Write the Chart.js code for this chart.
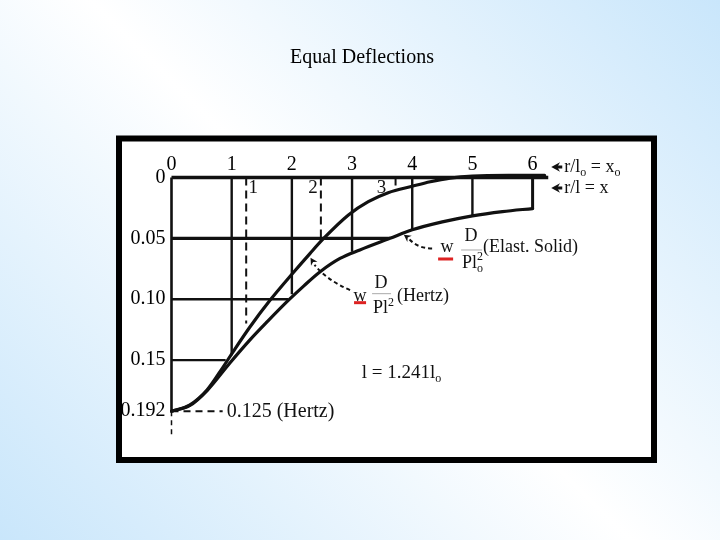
<!DOCTYPE html>
<html>
<head>
<meta charset="utf-8">
<title>Equal Deflections</title>
<script src="https://cdn.jsdelivr.net/npm/chart.js@4.4.1/dist/chart.umd.min.js"></script>
<style>
    html, body { margin: 0; padding: 0; }
    body {
        width: 720px;
        height: 540px;
        overflow: hidden;
        background: linear-gradient(45deg, #c9e6fb 0%, #ffffff 50%, #c9e6fb 100%);
    }
    #chart { display: block; }
</style>
</head>
<body>
<canvas id="chart" width="720" height="540"></canvas>
<script>
// Top axis: r/lo = xo
const xoTicks = [0, 1, 2, 3, 4, 5, 6];
// Left axis: deflection w D / P l^2
const wTicks = [0, 0.05, 0.10, 0.15, 0.192];
const wTickLabels = ['0', '0.05', '0.10', '0.15', '0.192'];
// Second scale r/l = x, with l = 1.241 lo
const xTicks = [1, 2, 3];
const lRatio = 1.241;

// Hertz curve (in xo units)
const hertzXo = [0, 0.3, 0.59, 0.86, 1.02, 1.3, 1.64, 2.0, 2.3, 2.52, 2.94, 3.27, 3.6, 4.0, 4.3, 4.63, 5.0, 5.6, 6.2];
const hertzW = [0.192, 0.187, 0.1746, 0.1555, 0.1434, 0.123, 0.1007, 0.0795, 0.0625, 0.0505, 0.0308, 0.0199, 0.0125, 0.0072, 0.0035, 0.0005, -0.0012, -0.0017, -0.0017];

// Elastic solid curve
const elastXo = [0, 0.3, 0.6, 0.97, 1.3, 1.6, 1.94, 2.2, 2.47, 2.8, 3.13, 3.63, 4.0, 4.5, 5.0, 5.5, 6.0];
const elastW = [0.192, 0.1875, 0.1746, 0.1524, 0.1336, 0.118, 0.101, 0.089, 0.0774, 0.0665, 0.0595, 0.050, 0.043, 0.0365, 0.0315, 0.028, 0.0255];

// where the grid lines stop (they run down to the curves)
const xoGridEnd = [0.146, 0.096, 0.061, 0.0425, 0.0315, 0.0255]; // solid, xo = 1..6
const xGridEnd = [0.12, 0.05, 0.007];                          // dashed, x = 1..3
const wGridEnd = [3.63, 1.94, 0.9];                             // w = 0.05, 0.10, 0.15
const topLineEnd = 6.26;
const hertzStartLabel = '0.125 (Hertz)';

const ink = '#111';
const serif = "'Liberation Serif', 'Times New Roman', serif";

function segment(x0, y0, x1, y1, width, dash) {
    return {
        data: [{ x: x0, y: y0 }, { x: x1, y: y1 }],
        showLine: true,
        borderColor: ink,
        borderWidth: width,
        borderDash: dash || [],
        borderCapStyle: 'butt',
        pointRadius: 0,
        clip: false
    };
}

function curve(xs, ws) {
    return {
        data: xs.map((x, i) => ({ x: x, y: ws[i] })),
        showLine: true,
        borderColor: ink,
        borderWidth: 3.2,
        cubicInterpolationMode: 'monotone',
        borderCapStyle: 'round',
        pointRadius: 0,
        clip: false
    };
}

const wMax = wTicks[wTicks.length - 1];
const datasets = [];
datasets.push(curve(hertzXo, hertzW));
datasets.push(curve(elastXo, elastW));
datasets.push(segment(0, 0, topLineEnd, 0, 3.6));
datasets.push(segment(0, 0, 0, wMax, 2.6));
datasets.push(segment(0, wMax, 0, wMax + 0.02, 1.5, [5, 4]));
datasets.push(segment(0, wMax, 0.85, wMax, 2, [7, 5]));

xoTicks.slice(1).forEach((xo, i) => {
    datasets.push(segment(xo, 0, xo, xoGridEnd[i], i === 5 ? 3 : 2.4));
});
xTicks.forEach((x, i) => {
    datasets.push(segment(x * lRatio, 0, x * lRatio, xGridEnd[i], 2, [8, 5]));
});
wTicks.slice(1, 4).forEach((w, i) => {
    datasets.push(segment(0, w, wGridEnd[i], w, [3.2, 2.6, 2.2][i]));
});

// text with sub/superscripts, left aligned, vertically centred
function drawRich(ctx, x, y, parts, size) {
    parts.forEach(p => {
        const sub = p[1] === 'sub', sup = p[1] === 'sup';
        const fs = (sub || sup) ? Math.round(size * 0.65) : size;
        ctx.font = fs + 'px ' + serif;
        const dy = sub ? size * 0.3 : (sup ? -size * 0.35 : 0);
        ctx.fillText(p[0], x, y + dy);
        x += ctx.measureText(p[0]).width;
    });
    return x;
}

function arrowHead(ctx, x, y, angle, size) {
    ctx.beginPath();
    ctx.moveTo(x, y);
    ctx.lineTo(x + size * Math.cos(angle + 0.5), y + size * Math.sin(angle + 0.5));
    ctx.lineTo(x + size * 0.6 * Math.cos(angle), y + size * 0.6 * Math.sin(angle));
    ctx.lineTo(x + size * Math.cos(angle - 0.5), y + size * Math.sin(angle - 0.5));
    ctx.closePath();
    ctx.fill();
}

const annotations = {
    id: 'annotations',
    beforeDraw(chart) {
        const ctx = chart.ctx;
        ctx.save();
        ctx.fillStyle = '#fff';
        ctx.fillRect(119, 138.5, 535, 321.5);
        ctx.restore();
    },
    afterDatasetsDraw(chart) {
        const ctx = chart.ctx;
        const xs = chart.scales.x, ys = chart.scales.y;
        const P = (xo, w) => [xs.getPixelForValue(xo), ys.getPixelForValue(w)];
        ctx.save();
        ctx.fillStyle = ink;
        ctx.strokeStyle = ink;
        ctx.textBaseline = 'middle';

        // r/l = x labels under the top line
        const offsets = [7, -8, -14];
        ctx.textAlign = 'center';
        ctx.font = '19px ' + serif;
        xTicks.forEach((x, i) => {
            const p = P(x * lRatio, 0);
            ctx.fillText(String(x), p[0] + offsets[i], p[1] + 11);
        });

        // Hertz value at the origin
        ctx.textAlign = 'left';
        const o = P(0.85, wMax);
        ctx.font = '20px ' + serif;
        ctx.fillText(hertzStartLabel, o[0] + 4, o[1] + 1);

        // axis legends at the right end of the top line
        const e = P(topLineEnd, 0);
        [[-10.5, [['r/l'], ['o', 'sub'], [' = x'], ['o', 'sub']]],
         [10.5, [['r/l = x']]]].forEach(row => {
            const y = e[1] + row[0];
            arrowHead(ctx, e[0] + 3, y, 0, 10);
            ctx.lineWidth = 3;
            ctx.beginPath();
            ctx.moveTo(e[0] + 8, y);
            ctx.lineTo(e[0] + 14, y);
            ctx.stroke();
            drawRich(ctx, e[0] + 16, y, row[1], 18);
        });

        // Elastic solid label
        const B = P(4.43, 0.0575);
        ctx.fillStyle = '#d22';
        ctx.fillRect(B[0], B[1] + 10, 15, 3);
        ctx.fillStyle = ink;
        ctx.font = '18px ' + serif;
        ctx.textAlign = 'center';
        ctx.fillText('w', B[0] + 9, B[1]);
        ctx.fillText('D', B[0] + 33, B[1] - 11);
        ctx.strokeStyle = '#aaa';
        ctx.lineWidth = 1;
        ctx.beginPath();
        ctx.moveTo(B[0] + 23, B[1] + 2.5);
        ctx.lineTo(B[0] + 44, B[1] + 2.5);
        ctx.stroke();
        ctx.textAlign = 'left';
        let px = drawRich(ctx, B[0] + 24, B[1] + 15.5, [['Pl']], 18);
        drawRich(ctx, px, B[1] + 15.5, [['2', 'sup']], 18);
        drawRich(ctx, px, B[1] + 15.5, [['o', 'sub']], 18);
        drawRich(ctx, B[0] + 45, B[1], [['(Elast. Solid)']], 18);

        // Hertz label
        const H = P(3.05, 0.0975);
        ctx.fillStyle = '#d22';
        ctx.fillRect(H[0] - 1, H[1] + 5, 12, 3);
        ctx.fillStyle = ink;
        ctx.font = '18px ' + serif;
        ctx.textAlign = 'center';
        ctx.fillText('w', H[0] + 5, H[1]);
        ctx.fillText('D', H[0] + 26, H[1] - 13);
        ctx.strokeStyle = '#aaa';
        ctx.beginPath();
        ctx.moveTo(H[0] + 17, H[1] - 2.5);
        ctx.lineTo(H[0] + 36, H[1] - 2.5);
        ctx.stroke();
        ctx.textAlign = 'left';
        px = drawRich(ctx, H[0] + 18, H[1] + 12.5, [['Pl']], 18);
        drawRich(ctx, px, H[1] + 12.5, [['2', 'sup']], 18);
        drawRich(ctx, H[0] + 42, H[1], [['(Hertz)']], 18);

        // dashed leaders with arrow heads
        ctx.strokeStyle = ink;
        ctx.fillStyle = ink;
        ctx.lineWidth = 2;
        ctx.setLineDash([4, 3]);
        const et = P(3.86, 0.047);
        ctx.beginPath();
        ctx.moveTo(B[0] - 6, B[1] + 1);
        ctx.quadraticCurveTo(et[0] + 14, B[1] + 1, et[0] + 5, et[1] + 4);
        ctx.stroke();
        const ht = P(2.31, 0.066);
        ctx.beginPath();
        ctx.moveTo(H[0] - 5, H[1] - 6);
        ctx.quadraticCurveTo(ht[0] + 16, ht[1] + 22, ht[0] + 4, ht[1] + 7);
        ctx.stroke();
        ctx.setLineDash([]);
        arrowHead(ctx, et[0], et[1], Math.atan2(1, 1.4), 8);
        arrowHead(ctx, ht[0], ht[1], Math.atan2(1.6, 1), 8);

        // l = 1.241 lo
        const L = P(3.16, 0.1605);
        drawRich(ctx, L[0], L[1], [['l = 1.241l'], ['o', 'sub']], 19);
        ctx.restore();
    },
    afterDraw(chart) {
        const ctx = chart.ctx;
        ctx.save();
        ctx.strokeStyle = '#000';
        ctx.lineWidth = 6;
        ctx.strokeRect(119, 138.5, 535, 321.5);
        ctx.fillStyle = '#000';
        ctx.font = '20px ' + serif;
        ctx.textAlign = 'center';
        ctx.textBaseline = 'middle';
        ctx.fillText('Equal Deflections', 362, 58);
        ctx.restore();
    }
};

new Chart(document.getElementById('chart'), {
    type: 'scatter',
    data: { datasets: datasets },
    options: {
        responsive: false,
        animation: false,
        devicePixelRatio: 1,
        layout: {
            autoPadding: false,
            padding: { left: 111.5, top: 147.5, right: 187.4, bottom: 128.8 }
        },
        plugins: {
            legend: { display: false },
            tooltip: { enabled: false }
        },
        scales: {
            x: {
                type: 'linear',
                position: 'top',
                min: 0,
                max: 6,
                afterBuildTicks: axis => { axis.ticks = xoTicks.map(v => ({ value: v })); },
                afterFit: axis => { axis.height = 30; },
                grid: { display: false, drawTicks: false },
                border: { display: false },
                ticks: {
                    autoSkip: false,
                    maxRotation: 0,
                    padding: 1,
                    color: '#000',
                    font: { family: serif, size: 20 }
                }
            },
            y: {
                type: 'linear',
                min: 0,
                max: wMax,
                reverse: true,
                afterBuildTicks: axis => { axis.ticks = wTicks.map(v => ({ value: v })); },
                afterFit: axis => { axis.width = 60; },
                grid: { display: false, drawTicks: false },
                border: { display: false },
                ticks: {
                    autoSkip: false,
                    padding: 6,
                    color: '#000',
                    font: { family: serif, size: 20 },
                    callback: (v, i) => wTickLabels[i]
                }
            }
        }
    },
    plugins: [annotations]
});
</script>
</body>
</html>
